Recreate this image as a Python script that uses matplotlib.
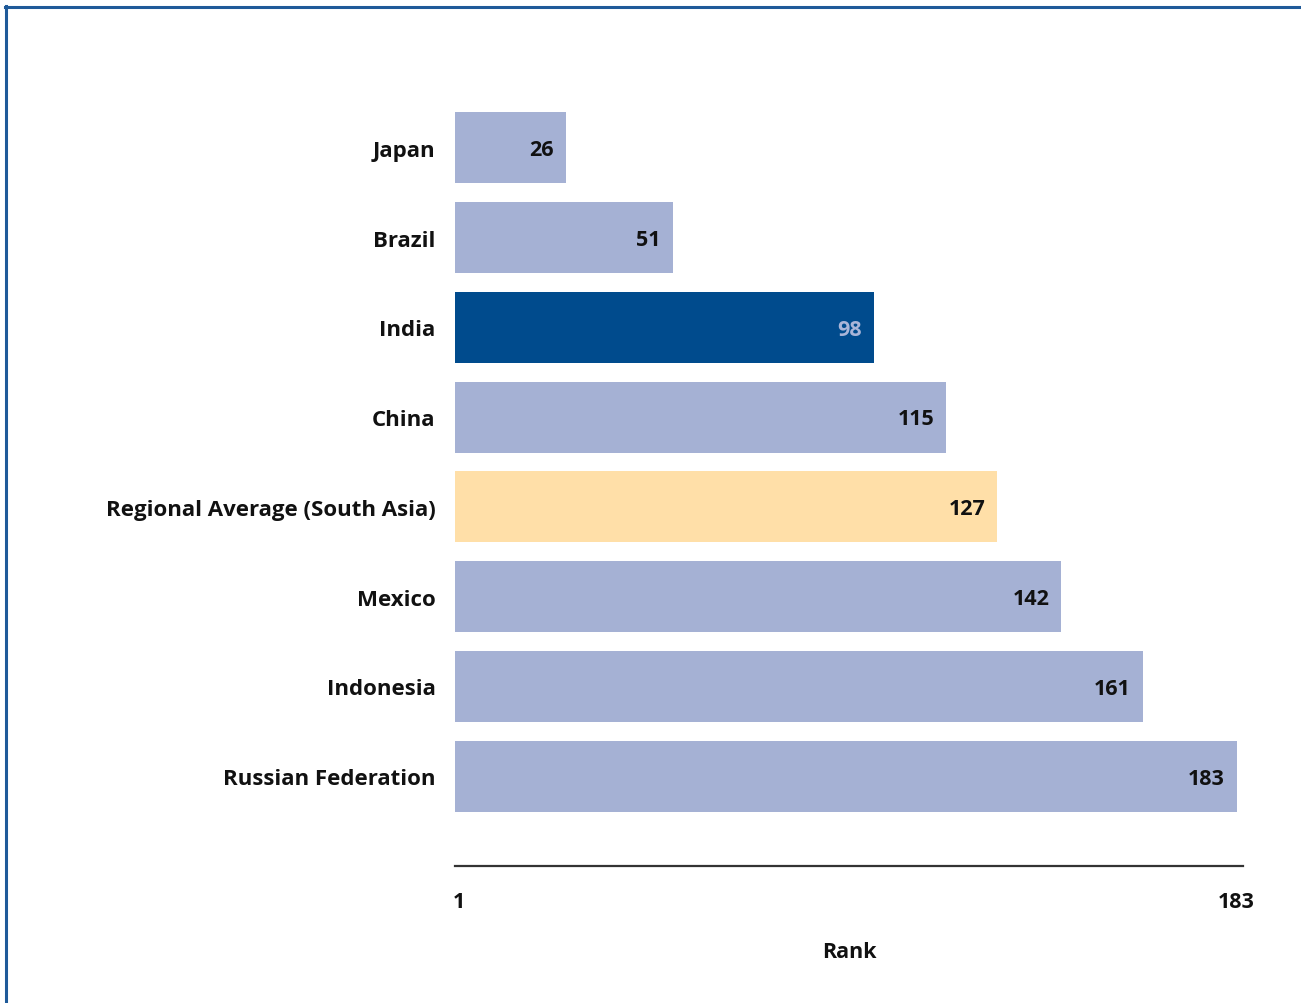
import matplotlib.pyplot as plt
from matplotlib.lines import Line2D

countries = ["Japan", "Brazil", "India", "China", "Regional Average (South Asia)",
             "Mexico", "Indonesia", "Russian Federation"]
ranks = [26, 51, 98, 115, 127, 142, 161, 183]
bar_colors = ["#a5b1d4", "#a5b1d4", "#004b8d", "#a5b1d4", "#ffdfa8",
              "#a5b1d4", "#a5b1d4", "#a5b1d4"]
label_colors = ["#111111", "#111111", "#a9b5d8", "#111111", "#111111",
                "#111111", "#111111", "#111111"]
tick_vals = [1, 183]

plt.rcParams['font.family'] = ['Open Sans', 'DejaVu Sans']

W, H = 1301, 1004
fig = plt.figure(figsize=(W / 100, H / 100), dpi=100)
ax = fig.add_axes([455 / W, (H - 867) / H, (1243 - 455) / W, (867 - 95) / H])

ypos = list(range(len(countries)))
ax.barh(ypos, ranks, height=0.79, color=bar_colors, edgecolor='none')
for y, v, c in zip(ypos, ranks, label_colors):
    ax.text(v - 2.8, y + 0.02, str(v), ha='right', va='center', fontsize=15.5,
            fontweight='bold', color=c)

ax.set_xlim(0, 184.5)
ax.set_ylim(8.0, -0.6)
ax.set_yticks(ypos)
ax.set_yticklabels(countries, fontsize=16, fontweight='bold', color='#111111')
ax.tick_params(axis='y', length=0, pad=14)
ax.set_xticks(tick_vals)
ax.set_xticklabels([str(t) for t in tick_vals], fontsize=15.5, fontweight='bold',
                   color='#111111')
ax.tick_params(axis='x', length=0, pad=18)
ax.set_xlabel("Rank", fontsize=15.5, fontweight='bold', color='#111111', labelpad=21)

for s in ['top', 'right', 'left']:
    ax.spines[s].set_visible(False)
ax.spines['bottom'].set_color('#333333')
ax.spines['bottom'].set_linewidth(1.6)

# blue frame on top and left
fig.add_artist(Line2D([5 / W, 1], [1 - 8 / H, 1 - 8 / H], color='#1f5a99', lw=2.2))
fig.add_artist(Line2D([6 / W, 6 / W], [0, 1 - 7 / H], color='#1f5a99', lw=2.2))

fig.savefig("out.png", dpi=100)
